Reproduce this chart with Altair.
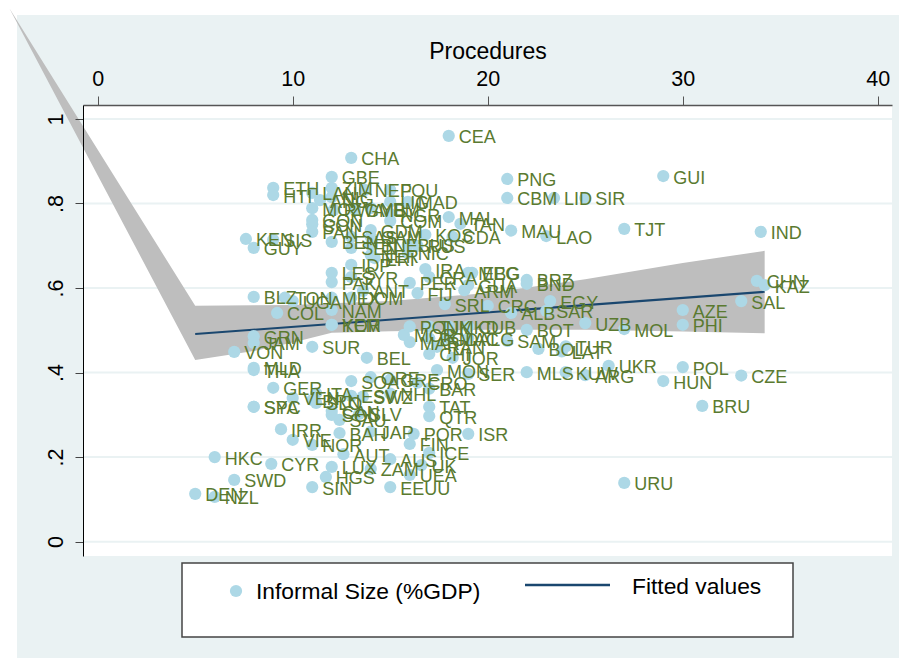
import altair as alt
import pandas as pd

codes = ["CEA","CHA","GUI","PNG","GBE","ZIM","ETH","HTI","NEP","FOU","LAN","ANG","NIG","LIG","MAD","MOZ","RWA","GMB","YEM","NGR",
"GON","CON","PAN","COM","GDM","GAM","SAS","MAL","TAN","KOS","CDA","BEN","SEN","BNE","NER","BUS","RUS","NIC","ERI","KEN","SIS","GUY",
"LES","PAK","IDP","SYR","ANT","PER","FIJ","IRA","CRA","MEG","EBG","GUA","ARM","SRL","CRC","BLZ","TON","UGA","MEX","DOM","COL","NAM","KOR","YEM",
"GRN","JAM","VON","SUR","BEL","MLD","THA","GER","SOA","ORE","GRE","CRO","BAR","ESV","SWZ","NHL","VEN","ITA","BRN","SLO","SPA","SYC",
"CAN","SOL","SLV","SAU","IRR","VIE","NOR","BAH","JAP","POR","ISR","FIN","ICE","AUT","HKC","CYR","LUX","ZAM","AUS","UK","UEA","HGS","SWD","SIN","EEUU","URU","DEN","NZL",
"MAU","LAO","TJT","IND","CBM","LID","SIR","BRZ","BND","CHN","KAZ","SAL","AZE","PHI","EGY","SAR","ALB","UZB","MOL","BOT","SAM","BOL","TUR","LAT","UKR","POL","CZE","HUN","BRU","ARG","KUW","MLS","SER","MON","QTR","TAT","JOR","CHI","RAN","MAR","MOR","PON","TJK","MKD","CUB","BGD","MAC","ALG"]
procedures = [18,13,29,21,12,12,9,9,13.7,15,11,11.4,12,15,15.9,11,12.1,13.2,14,15,
11,11,11,15,14,14,13,18,18.6,16.8,18.2,12,13,14,14,15.9,16.4,15.9,14.2,7.6,9,8,
12,12,13,13,13.6,16,16.4,16.8,17,19,19.2,19,18.8,17.8,20,8,9.6,10,12,13,9.2,12,12,12,
8,8,7,11,13.8,8,8,9,13,14,15,16.4,17,13,13.6,15,10,11.2,11,11.2,8,8,
12,12,13.4,12.4,9.4,10,11,12.4,14,16.2,19,16,17,12.6,6,8.9,12,14,15,16.6,16,11.7,7,11,15,27,5,6,
21.2,23,27,34,21,23.4,25,22,22,33.8,34.2,33,30,30,23.2,23,21.2,25,27,22,21,22.6,24,23.8,26.2,30,33,29,31,25,24,22,19,17.4,17,17,18.2,17,17.4,16,15.7,16,17,18,19,17,18,19]
informal = [.960,.908,.865,.858,.863,.837,.837,.820,.832,.832,.825,.808,.815,.804,.804,.789,.785,.785,.789,.775,
.761,.751,.733,.759,.737,.721,.721,.768,.752,.726,.721,.709,.695,.702,.678,.702,.700,.683,.671,.716,.714,.695,
.636,.614,.655,.626,.593,.612,.588,.645,.626,.636,.636,.607,.595,.562,.558,.579,.577,.569,.577,.577,.541,.548,.513,.513,
.486,.470,.449,.461,.435,.411,.406,.364,.380,.389,.383,.376,.362,.345,.343,.350,.340,.351,.335,.328,.319,.319,
.309,.300,.302,.288,.266,.241,.229,.257,.260,.255,.255,.231,.210,.207,.200,.184,.177,.172,.195,.181,.158,.153,.146,.129,.129,.139,.113,.106,
.736,.723,.740,.733,.813,.813,.813,.619,.610,.617,.607,.569,.548,.513,.569,.546,.541,.517,.503,.501,.475,.456,.462,.450,.416,.413,.393,.380,.321,.394,.401,.401,.397,.406,.297,.319,.435,.444,.461,.472,.489,.509,.509,.509,.509,.481,.481,.481]

band_x = [-4.53, 5, 8, 10, 12, 15, 20, 25, 30, 34.2]
band_hi = [1.262, .558, .559, .560, .564, .569, .588, .621, .659, .688]
band_lo = [1.262, .430, .451, .471, .494, .498, .501, .501, .497, .493]
fit_x = [5, 34.2]
fit_y = [.491, .591]
x_ticks = [0, 10, 20, 30, 40]
y_ticks = [0, .2, .4, .6, .8, 1]

PANEL = "#eaf2f3"
GREEN = "#5a7a30"
BLUE = "#add8e6"
NAVY = "#1a476f"
FONT = "Liberation Sans"
W, H = 809, 451

points = pd.DataFrame({"code": codes, "x": procedures, "y": informal})
band = pd.DataFrame({"x": band_x, "hi": band_hi, "lo": band_lo})
fit = pd.DataFrame({"x": fit_x, "y": fit_y})
grid = pd.DataFrame({"y": y_ticks})
one = pd.DataFrame({"a": [0]})

xs = alt.Scale(domain=[-0.754, 40.73], nice=False, zero=False)
ys = alt.Scale(domain=[-0.034, 1.033], nice=False, zero=False)

x_axis = alt.Axis(orient="top", values=x_ticks, title="Procedures", grid=False, zindex=1,
                  domainColor="#555555", domainWidth=1.5, tickColor="#555555", tickSize=9, tickWidth=1,
                  labelFont=FONT, labelFontSize=21.5, labelColor="black", labelPadding=6, labelFlush=False,
                  titleFont=FONT, titleFontSize=23, titleFontWeight="normal", titleColor="black", titlePadding=5)
y_axis = alt.Axis(values=y_ticks, title=None, grid=False, zindex=1, labelAngle=-90,
                  labelExpr="datum.value == 0 ? '0' : datum.value == 1 ? '1' : replace(format(datum.value, '.1f'), '0.', '.')",
                  domainColor="black", domainWidth=1, tickColor="#444444", tickSize=8, tickWidth=1,
                  labelFont=FONT, labelFontSize=21.5, labelColor="black", labelPadding=8, labelFlush=False)

panel = alt.Chart(one).mark_rect(color=PANEL).encode(
    x=alt.value(-66), x2=alt.value(816), y=alt.value(-90), y2=alt.value(553))
plotbg = alt.Chart(one).mark_rect(color="white").encode(
    x=alt.value(0), x2=alt.value(W), y=alt.value(0), y2=alt.value(H))
base_axes = alt.Chart(grid).mark_rule(color=PANEL, strokeWidth=2).encode(
    x=alt.value(0), x2=alt.value(W),
    y=alt.Y("y:Q", scale=ys, axis=y_axis))
band_layer = alt.Chart(band).mark_area(color="#bebebe", opacity=1, clip=False).encode(
    x=alt.X("x:Q", scale=xs, axis=x_axis), y=alt.Y("hi:Q", scale=ys, axis=y_axis), y2="lo:Q")
line_layer = alt.Chart(fit).mark_line(color=NAVY, strokeWidth=2).encode(
    x=alt.X("x:Q", scale=xs, axis=x_axis), y=alt.Y("y:Q", scale=ys, axis=y_axis))
pts = alt.Chart(points).mark_circle(color=BLUE, size=150, opacity=1).encode(
    x=alt.X("x:Q", scale=xs, axis=x_axis), y=alt.Y("y:Q", scale=ys, axis=y_axis))
txt = alt.Chart(points).mark_text(color=GREEN, font=FONT, fontSize=18, align="left", baseline="middle", dx=10, dy=2.5).encode(
    x=alt.X("x:Q", scale=xs, axis=x_axis), y=alt.Y("y:Q", scale=ys, axis=y_axis), text="code:N")

leg_box = alt.Chart(one).mark_rect(fill="white", stroke="#444444", strokeWidth=1.5).encode(
    x=alt.value(99), x2=alt.value(710), y=alt.value(458), y2=alt.value(532))
leg_pt = alt.Chart(one).mark_circle(color=BLUE, size=150, opacity=1).encode(x=alt.value(153), y=alt.value(486))
leg_t1 = alt.Chart(one).mark_text(font=FONT, fontSize=22.8, align="left", baseline="middle", color="black").encode(
    x=alt.value(173), y=alt.value(487), text=alt.value("Informal Size (%GDP)"))
leg_ln = alt.Chart(one).mark_rule(color=NAVY, strokeWidth=2.5).encode(
    x=alt.value(442), x2=alt.value(527), y=alt.value(480))
leg_t2 = alt.Chart(one).mark_text(font=FONT, fontSize=22.8, align="left", baseline="middle", color="black").encode(
    x=alt.value(549), y=alt.value(482), text=alt.value("Fitted values"))

chart = alt.layer(panel, plotbg, base_axes, band_layer, line_layer, pts, txt,
                  leg_box, leg_pt, leg_t1, leg_ln, leg_t2).properties(
    width=W, height=H,
    autosize=alt.AutoSizeParams(type="none"),
    padding={"left": 75, "top": 97, "right": 7, "bottom": 102},
    background="white",
).configure_view(stroke=None)

chart.save("out.html", embed_options={"renderer": "svg", "actions": False})
